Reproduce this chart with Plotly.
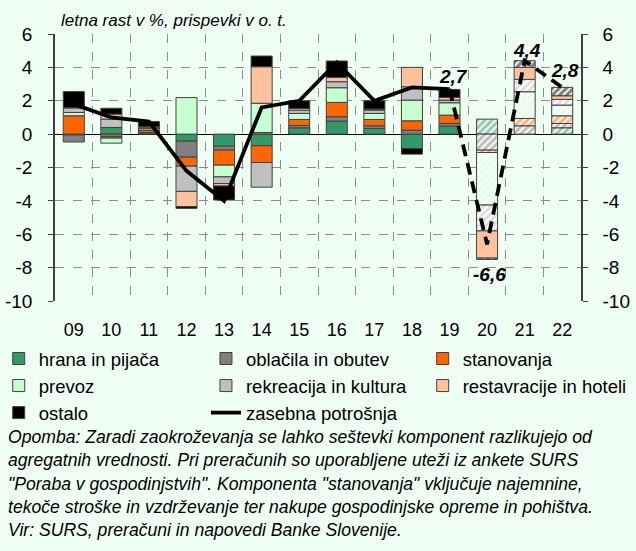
import plotly.graph_objects as go

# ---------------- data ----------------
categories = ['09', '10', '11', '12', '13', '14', '15', '16', '17', '18', '19', '20', '21', '22']
hrana = [-0.05, 0.40, 0.08, -0.42, -0.72, -0.70, 0.38, 0.78, 0.34, -0.86, 0.48, 0.90, 0.00, 0.38]
oblacila = [-0.42, -0.14, 0.02, -0.96, -0.24, 0.10, 0.14, 0.26, 0.16, 0.24, 0.16, -0.96, 0.50, 0.26]
stanovanja = [1.10, -0.10, 0.12, -0.54, -0.90, -1.00, 0.36, 0.86, 0.38, 0.56, 0.50, -0.14, 0.44, 0.46]
prevoz = [0.20, -0.30, 0.10, 2.19, -0.70, 1.75, 0.36, 0.88, 0.36, 1.24, 0.74, -3.15, 1.60, 0.64]
rekreacija = [0.28, 0.50, 0.06, -1.51, -0.40, -1.48, 0.20, 0.36, 0.20, 0.80, 0.16, -1.55, 0.74, 0.34]
restavracije = [0.00, 0.30, 0.06, -0.92, -0.15, 2.19, 0.10, 0.26, 0.06, 1.16, 0.16, -1.63, 0.72, 0.22]
ostalo = [0.97, 0.35, 0.32, -0.10, -0.84, 0.64, 0.46, 0.98, 0.50, -0.34, 0.48, -0.08, 0.40, 0.50]
zasebna = [1.8, 1.0, 0.75, -2.2, -4.0, 1.6, 2.0, 4.3, 2.0, 2.8, 2.7, -6.6, 4.4, 2.8]
forecast = [False] * 11 + [True] * 3

labelled = {10: '2,7', 11: '-6,6', 12: '4,4', 13: '2,8'}

y_tickvals = [-10, -8, -6, -4, -2, 0, 2, 4, 6]
y_ticktext = ['-10', '-8', '-6', '-4', '-2', '0', '2', '4', '6']

title_text = 'letna rast v %, prispevki v o. t.'
note_lines = [
    'Opomba: Zaradi zaokroževanja se lahko seštevki komponent razlikujejo od',
    'agregatnih vrednosti. Pri preračunih so uporabljene uteži iz ankete SURS',
    '"Poraba v gospodinjstvih". Komponenta "stanovanja" vključuje najemnine,',
    'tekoče stroške in vzdrževanje ter nakupe gospodinjske opreme in pohištva.',
    'Vir: SURS, preračuni in napovedi Banke Slovenije.',
]

# name, values, colour, hatched in forecast, legend column
series = [
    ('hrana in pijača', hrana, '#339966', True, 'legend'),
    ('oblačila in obutev', oblacila, '#808080', True, 'legend2'),
    ('stanovanja', stanovanja, '#FF6600', True, 'legend3'),
    ('prevoz', prevoz, '#C6FFD0', True, 'legend'),
    ('rekreacija in kultura', rekreacija, '#C0C0C0', True, 'legend2'),
    ('restavracije in hoteli', restavracije, '#FFC29C', False, 'legend3'),
    ('ostalo', ostalo, '#000000', True, 'legend'),
]

FONT = 'Liberation Sans, Arial, sans-serif'
BG = '#F0FFF4'

x = list(range(len(categories)))
fig = go.Figure()

for name, vals, col, hatch, leg in series:
    shapes = ['/' if (f and hatch) else '' for f in forecast]
    bgs = ['#FFFFFF' if (f and hatch) else col for f in forecast]
    fig.add_trace(go.Bar(
        x=x, y=vals, name=name, legend=leg,
        marker=dict(color=col, line=dict(color='#404040', width=1),
                    pattern=dict(shape=shapes, fgcolor=col, bgcolor=bgs,
                                 size=5, solidity=0.65)),
        hoverinfo='skip'))

solid = [v if i <= 10 else None for i, v in enumerate(zasebna)]
dashed = [v if i >= 10 else None for i, v in enumerate(zasebna)]
fig.add_trace(go.Scatter(x=x, y=solid, mode='lines', name='zasebna potrošnja', legend='legend2',
                         line=dict(color='black', width=3.8), hoverinfo='skip'))
fig.add_trace(go.Scatter(x=x, y=dashed, mode='lines', showlegend=False,
                         line=dict(color='black', width=3.8, dash='12px,7px'), hoverinfo='skip'))
# invisible trace to carry the right-hand axis
fig.add_trace(go.Scatter(x=x, y=zasebna, yaxis='y2', mode='markers', showlegend=False,
                         marker=dict(opacity=0), hoverinfo='skip'))

annotations = []
shift = {10: (4, 13), 11: (2, -30), 12: (2, 10), 13: (3, 17)}
for i, txt in labelled.items():
    dx, dy = shift[i]
    annotations.append(dict(x=i, y=zasebna[i], xref='x', yref='y', text='<b><i>%s</i></b>' % txt,
                            showarrow=False, xshift=dx, yshift=dy,
                            font=dict(family=FONT, size=19, color='black')))

annotations.append(dict(x=0.015, y=1.0, xref='paper', yref='paper', xanchor='left', yanchor='bottom',
                        xshift=-4, yshift=2, text='<i>%s</i>' % title_text, showarrow=False,
                        font=dict(family=FONT, size=17, color='black')))

for k, line in enumerate(note_lines):
    annotations.append(dict(x=0.0, y=0.0, xref='paper', yref='paper', xanchor='left', yanchor='middle',
                            xshift=-49, yshift=-(136 + 23.3 * k), text='<i>%s</i>' % line,
                            align='left', showarrow=False,
                            font=dict(family=FONT, size=17.6, color='black')))

leg_common = dict(orientation='v', yanchor='top', xanchor='left', y=-0.146,
                  bgcolor='rgba(0,0,0,0)', font=dict(family=FONT, size=18.5, color='black'),
                  itemwidth=30, tracegroupgap=0)

fig.update_layout(
    width=636, height=551,
    margin=dict(l=55, r=55, t=34, b=250, autoexpand=False),
    paper_bgcolor=BG, plot_bgcolor=BG,
    barmode='relative', bargap=0.44,
    font=dict(family=FONT, size=18, color='black'),
    showlegend=True,
    legend=dict(x=-0.107, **leg_common),
    legend2=dict(x=0.287, **leg_common),
    legend3=dict(x=0.699, **leg_common),
    xaxis=dict(range=[-0.5, len(categories) - 0.5], tickvals=x, ticktext=categories,
               showgrid=False, zeroline=False, showline=False,
               ticks='outside', ticklen=12, tickcolor='rgba(0,0,0,0)',
               tickfont=dict(family=FONT, size=18),
               minor=dict(tick0=0.5, dtick=1, showgrid=True, gridcolor='#8C8C8C',
                          griddash='dash', gridwidth=1)),
    yaxis=dict(range=[-10, 6], tickvals=y_tickvals, ticktext=y_ticktext,
               showgrid=True, gridcolor='#8C8C8C', griddash='dash', gridwidth=1,
               zeroline=True, zerolinecolor='black', zerolinewidth=1.2,
               showline=True, linecolor='#404040', linewidth=1.5,
               ticks='outside', ticklen=5, tickcolor='#404040', ticklabelstandoff=12,
               tickfont=dict(family=FONT, size=19)),
    yaxis2=dict(range=[-10, 6], tickvals=y_tickvals, ticktext=y_ticktext,
                overlaying='y', side='right', showgrid=False, zeroline=False,
                showline=True, linecolor='#404040', linewidth=1.5,
                ticks='outside', ticklen=5, tickcolor='#404040', ticklabelstandoff=11,
                tickfont=dict(family=FONT, size=19)),
    annotations=annotations,
)

fig.write_html('out.html', config={'displayModeBar': False},
               post_script="document.body.style.margin='0';")
